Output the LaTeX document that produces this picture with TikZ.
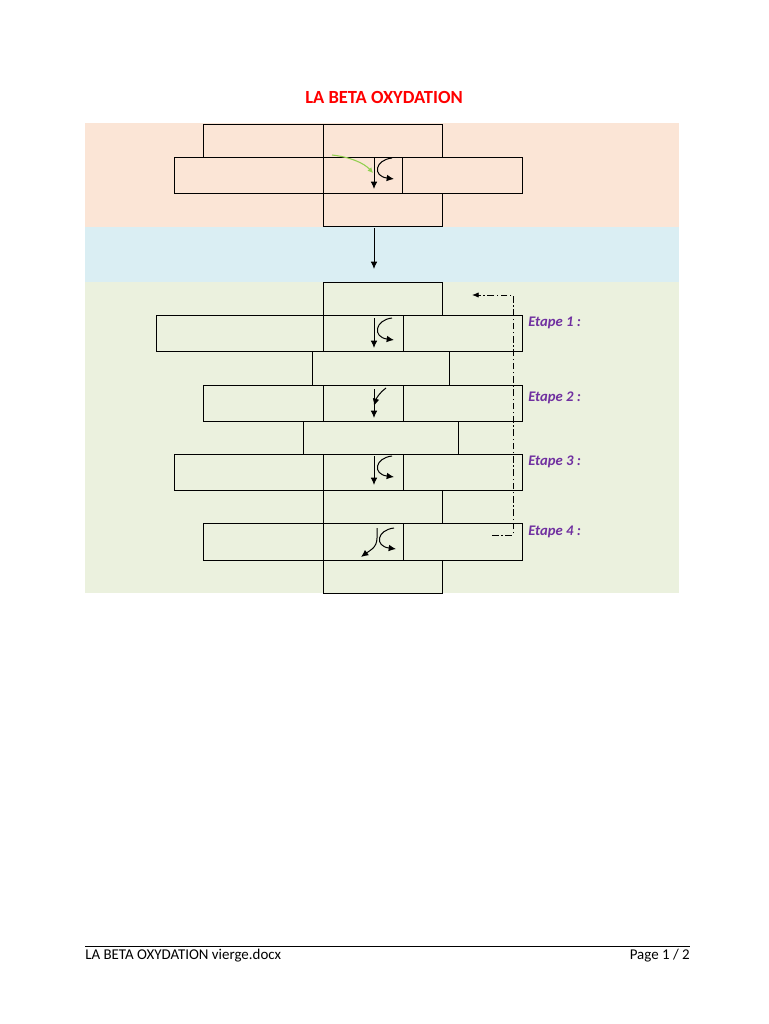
\documentclass[tikz,border=0pt]{standalone}
\usepackage{fontspec}
\setmainfont{Carlito}
\usetikzlibrary{arrows.meta,fit}
\definecolor{peach}{HTML}{FBE5D6}
\definecolor{lblue}{HTML}{DAEEF3}
\definecolor{lgreen}{HTML}{EBF1DE}
\definecolor{etape}{HTML}{7030A0}
\definecolor{gcurve}{HTML}{92D050}
\tikzset{
  box/.style={draw=black, line width=0.75pt, inner sep=0pt, outer sep=0pt},
  arr/.style={line width=0.75pt, -{Latex[length=5.5pt,width=5pt]}},
  etapelbl/.style={text=etape, font=\fontsize{11}{13}\selectfont\bfseries\itshape, anchor=west, inner sep=0pt},
  loop/.style={line width=0.6pt, dash pattern=on 5pt off 2pt on 1pt off 2pt, -{Latex[length=5pt,width=4pt]}},
}
\newcommand{\bx}[5]{\node[box, fit={(#2,#3) (#4,#5)}] (#1) {};}
\begin{document}
\begin{tikzpicture}[x=0.75pt,y=-0.75pt]
\useasboundingbox (0,0) rectangle (768,1024);
% backgrounds
\fill[peach] (85,123) rectangle (679,227);
\fill[lblue] (85,227) rectangle (679,282);
\fill[lgreen] (85,282) rectangle (679,593);
% title
\node[text=red, font=\fontsize{13.9}{16}\selectfont\bfseries] (title) at (384,97) {LA BETA OXYDATION};
% top block
\bx{t1}{203}{124}{323}{157}
\bx{t2}{323}{124}{442}{157}
\bx{t3}{174}{157}{323}{193}
\bx{t4}{323}{157}{402}{193}
\bx{t5}{402}{157}{522}{193}
\bx{t6}{323}{193}{442}{226}
% green block
\bx{a0}{323}{282}{442}{315}
\bx{a1}{156}{315}{323}{351}
\bx{a2}{323}{315}{403}{351}
\bx{a3}{403}{315}{522}{351}
\bx{b0}{312}{351}{449}{385}
\bx{b1}{203}{385}{323}{421}
\bx{b2}{323}{385}{403}{421}
\bx{b3}{403}{385}{522}{421}
\bx{c0}{303}{421}{458}{454}
\bx{c1}{174}{454}{323}{490}
\bx{c2}{323}{454}{403}{490}
\bx{c3}{403}{454}{522}{490}
\bx{d0}{323}{490}{442}{523}
\bx{d1}{203}{523}{323}{560}
\bx{d2}{323}{523}{403}{560}
\bx{d3}{403}{523}{522}{560}
\bx{e0}{323}{560}{442}{593}
% top arrows
\coordinate (tv1) at (374,158); \coordinate (tv2) at (374,189);
\draw[arr] (tv1) -- (tv2);
\coordinate (tc1) at (392,158); \coordinate (tc2) at (394,179);
\draw[arr] (tc1) .. controls (375,160) and (372,176) .. (tc2);
\coordinate (g1) at (332,155); \coordinate (g2) at (373,173);
\draw[gcurve, line width=0.8pt, -{Latex[length=4pt,width=4pt]}] (g1) .. controls (350,157) and (364,163) .. (g2);
% blue arrow
\coordinate (m1) at (374,228); \coordinate (m2) at (374,269);
\draw[arr] (m1) -- (m2);
% step 1
\coordinate (s1a) at (374,318); \coordinate (s1b) at (374,348);
\draw[arr] (s1a) -- (s1b);
\coordinate (s1c) at (392,318); \coordinate (s1d) at (394,340);
\draw[arr] (s1c) .. controls (375,320) and (372,337) .. (s1d);
% step 2
\coordinate (s2a) at (374,389); \coordinate (s2b) at (374,418);
\draw[arr] (s2a) -- (s2b);
\coordinate (s2c) at (386,388); \coordinate (s2d) at (374,406);
\draw[arr] (s2c) .. controls (380,392) and (376,399) .. (s2d);
% step 3
\coordinate (s3a) at (374,456); \coordinate (s3b) at (374,485);
\draw[arr] (s3a) -- (s3b);
\coordinate (s3c) at (392,456); \coordinate (s3d) at (394,477);
\draw[arr] (s3c) .. controls (375,458) and (372,474) .. (s3d);
% step 4
\coordinate (s4c) at (394,528); \coordinate (s4d) at (396,549);
\draw[arr] (s4c) .. controls (377,530) and (374,546) .. (s4d);
\coordinate (s4a) at (377,528); \coordinate (s4b) at (361,557);
\draw[arr] (s4a) -- (377,538) .. controls (377,548) and (369,551) .. (s4b);
% loop
\coordinate (l1) at (492,535); \coordinate (l2) at (472,295);
\draw[loop] (l1) -- (513,535) -- (513,295) -- (l2);
% labels
\node[etapelbl] (e1) at (528,323) {Etape 1 :};
\node[etapelbl] (e2) at (528,398) {Etape 2 :};
\node[etapelbl] (e3) at (528,462) {Etape 3 :};
\node[etapelbl] (e4) at (528,532) {Etape 4 :};
% footer
\coordinate (f1) at (85,946); \coordinate (f2) at (690,946);
\draw[line width=0.6pt] (f1) -- (f2);
\node[anchor=west, inner sep=0pt, font=\fontsize{11.2}{13}\selectfont] (fl) at (85,956) {LA BETA OXYDATION vierge.docx};
\node[anchor=east, inner sep=0pt, font=\fontsize{11.2}{13}\selectfont] (fr) at (690,956) {Page 1 / 2};
\end{tikzpicture}
\end{document}
